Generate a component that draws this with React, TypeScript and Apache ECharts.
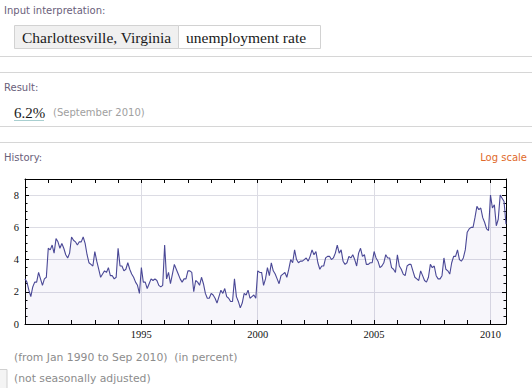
import React, { useEffect, useRef } from "react";
import * as echarts from "echarts";

// Monthly unemployment rate (%), Charlottesville, VA — Jan 1990 .. Sep 2010
const startYear = 1990;
const v1990 = [2.8, 2.6, 2.1, 1.7, 2.3, 2.6, 2.6, 3.2, 2.8, 2.4, 2.8, 2.9];
const v1991 = [4.7, 4.6, 4.9, 4.4, 5.3, 5.1, 4.7, 5.0, 4.7, 4.3, 4.1, 4.4];
const v1992 = [5.4, 5.2, 5.1, 4.9, 5.1, 5.1, 5.4, 5.0, 4.3, 3.8, 3.7, 3.6];
const v1993 = [4.5, 3.9, 3.4, 2.9, 3.1, 3.3, 3.2, 3.5, 3.0, 3.0, 2.8, 2.9];
const v1994 = [4.7, 3.6, 3.6, 3.3, 3.4, 3.8, 3.4, 3.1, 2.9, 2.6, 2.4, 1.9];
const v1995 = [3.5, 2.6, 2.6, 2.2, 2.5, 2.8, 2.7, 2.8, 2.7, 2.4, 2.3, 2.4];
const v1996 = [4.9, 2.8, 3.2, 2.5, 3.1, 3.7, 3.4, 3.1, 2.8, 2.6, 2.8, 2.8];
const v1997 = [3.3, 3.3, 3.2, 2.0, 2.7, 2.6, 2.4, 2.9, 2.5, 1.9, 1.6, 1.6];
const v1998 = [1.9, 1.8, 1.6, 1.3, 1.7, 2.1, 1.9, 2.2, 1.7, 1.6, 1.4, 1.4];
const v1999 = [2.8, 1.7, 1.4, 1.0, 1.3, 1.9, 1.8, 2.1, 1.6, 1.7, 1.8, 1.6];
const v2000 = [3.3, 3.2, 3.2, 2.4, 2.8, 3.5, 3.0, 3.8, 3.3, 3.1, 2.8, 2.5];
const v2001 = [3.0, 3.1, 3.2, 2.9, 3.4, 4.0, 3.8, 4.6, 4.0, 3.8, 3.9, 3.9];
const v2002 = [4.0, 4.1, 3.9, 4.2, 4.6, 4.3, 4.5, 3.8, 3.4, 3.6, 3.6, 4.1];
const v2003 = [4.2, 4.2, 4.0, 4.1, 4.4, 4.9, 4.4, 4.6, 3.9, 3.7, 3.8, 4.2];
const v2004 = [4.1, 4.3, 4.0, 3.6, 4.4, 4.7, 4.2, 4.3, 3.7, 3.7, 3.8, 3.8];
const v2005 = [4.5, 4.1, 3.9, 3.5, 3.6, 3.8, 4.3, 4.1, 4.1, 3.5, 3.4, 3.2];
const v2006 = [4.3, 3.6, 3.4, 3.1, 3.0, 3.6, 3.7, 3.7, 3.3, 2.9, 2.8, 2.7];
const v2007 = [3.3, 3.0, 2.7, 2.6, 2.9, 3.7, 3.5, 3.6, 3.0, 2.8, 2.8, 3.0];
const v2008 = [4.1, 3.4, 3.3, 3.1, 3.8, 4.2, 4.2, 4.6, 4.0, 3.9, 4.1, 4.6];
const v2009 = [5.7, 5.9, 6.0, 6.0, 6.6, 7.3, 7.1, 7.2, 6.6, 6.3, 5.9, 5.8];
const v2010 = [8.0, 7.2, 7.4, 6.1, 6.5, 8.0, 7.8, 7.6, 6.2];

const yearlyValues = [
  v1990, v1991, v1992, v1993, v1994, v1995, v1996, v1997, v1998, v1999,
  v2000, v2001, v2002, v2003, v2004, v2005, v2006, v2007, v2008, v2009, v2010,
];

const xMin = 1990;
const xMax = 2010 + 8 / 12;
const xLabelYears = [1995, 2000, 2005, 2010];
const yMin = 0;
const yMax = 9;
const yLabelValues = [0, 2, 4, 6, 8];

const sans = "'DejaVu Sans', Verdana, sans-serif";
const serif = "'Liberation Serif', 'Times New Roman', serif";

export default function App() {
  const ref = useRef<HTMLDivElement>(null);

  useEffect(() => {
    document.body.style.margin = "0";
    const el = ref.current!;
    const chart = echarts.init(el, null, { renderer: "svg" });

    const data: [number, number][] = [];
    yearlyValues.forEach((arr, i) => {
      arr.forEach((v, m) => data.push([startYear + i + m / 12, v]));
    });

    const frame = { show: true, onZero: false, lineStyle: { color: "#000", width: 1 } };
    const baseX = { type: "value" as const, min: xMin, max: xMax, interval: 1 };
    const baseY = { type: "value" as const, min: yMin, max: yMax };

    chart.setOption({
      animation: false,
      backgroundColor: "#fff",
      grid: { left: 25, top: 179, right: 26, bottom: 64, containLabel: false },
      xAxis: [
        {
          ...baseX,
          position: "bottom",
          axisLine: frame,
          axisTick: { show: true, inside: true, length: 4, lineStyle: { color: "#000" } },
          axisLabel: {
            show: true,
            margin: 5,
            color: "#111",
            fontFamily: serif,
            fontSize: 10.5,
            showMaxLabel: false,
            formatter: (v: number) => (xLabelYears.includes(Math.round(v * 1000) / 1000) ? String(v) : ""),
          },
          splitLine: { show: false },
        },
        {
          ...baseX,
          position: "top",
          axisLine: frame,
          axisTick: { show: true, inside: true, length: 4, lineStyle: { color: "#000" } },
          axisLabel: { show: false },
          splitLine: { show: false },
        },
        {
          type: "value",
          min: xMin,
          max: xMax,
          interval: 5,
          position: "bottom",
          axisLine: { show: false, onZero: false },
          axisTick: { show: false },
          axisLabel: { show: false },
          splitLine: { show: true, lineStyle: { color: "#dcdce4", width: 1 } },
        },
      ],
      yAxis: [
        {
          ...baseY,
          interval: 2,
          position: "left",
          axisLine: frame,
          axisTick: { show: true, inside: true, length: 4, lineStyle: { color: "#000" } },
          axisLabel: {
            show: true,
            margin: 6,
            color: "#111",
            fontFamily: serif,
            fontSize: 10.5,
            formatter: (v: number) => (yLabelValues.includes(v) ? String(v) : ""),
          },
          splitLine: { show: true, lineStyle: { color: "#dcdce4", width: 1 } },
        },
        {
          ...baseY,
          interval: 0.5,
          position: "left",
          axisLine: { show: false, onZero: false },
          axisTick: { show: true, inside: true, length: 2.5, lineStyle: { color: "#000" } },
          axisLabel: { show: false },
          splitLine: { show: false },
        },
        {
          ...baseY,
          interval: 2,
          position: "right",
          axisLine: frame,
          axisTick: { show: true, inside: true, length: 4, lineStyle: { color: "#000" } },
          axisLabel: { show: false },
          splitLine: { show: false },
        },
        {
          ...baseY,
          interval: 0.5,
          position: "right",
          axisLine: { show: false, onZero: false },
          axisTick: { show: true, inside: true, length: 2.5, lineStyle: { color: "#000" } },
          axisLabel: { show: false },
          splitLine: { show: false },
        },
      ],
      series: [
        {
          type: "line",
          xAxisIndex: 0,
          yAxisIndex: 0,
          data,
          showSymbol: false,
          symbol: "none",
          lineStyle: { color: "#4a4896", width: 1.1 },
          areaStyle: { color: "rgba(90,80,170,0.075)" },
          z: 3,
        },
      ],
      graphic: [
        { type: "text", x: 4, y: 10, style: { text: "Input interpretation:", font: `10px ${sans}`, fill: "#6a607a", verticalAlign: "middle" } },
        { type: "rect", shape: { x: 14.5, y: 25.5, width: 164, height: 23 }, style: { fill: "#f0f0f0", stroke: "#d2d2d2", lineWidth: 1 } },
        { type: "rect", shape: { x: 178.5, y: 25.5, width: 142, height: 23 }, style: { fill: "#ffffff", stroke: "#d2d2d2", lineWidth: 1 } },
        { type: "text", x: 22, y: 37.5, style: { text: "Charlottesville, Virginia", font: `15.5px ${serif}`, fill: "#1a1a1a", verticalAlign: "middle" } },
        { type: "text", x: 186, y: 37.5, style: { text: "unemployment rate", font: `15.5px ${serif}`, fill: "#1a1a1a", verticalAlign: "middle" } },
        { type: "line", shape: { x1: 0, y1: 56.5, x2: 532, y2: 56.5 }, style: { stroke: "#d6d6d6", lineWidth: 1 } },
        { type: "line", shape: { x1: 0, y1: 72.5, x2: 532, y2: 72.5 }, style: { stroke: "#d6d6d6", lineWidth: 1 } },
        { type: "text", x: 4, y: 87, style: { text: "Result:", font: `10px ${sans}`, fill: "#6a607a", verticalAlign: "middle" } },
        { type: "text", x: 14, y: 112.5, style: { text: "6.2%", font: `15px ${serif}`, fill: "#1a1a1a", verticalAlign: "middle" } },
        { type: "line", shape: { x1: 14, y1: 120.5, x2: 44, y2: 120.5 }, style: { stroke: "#a8cfd0", lineWidth: 1 } },
        { type: "text", x: 53, y: 112.5, style: { text: "(September 2010)", font: `10px ${sans}`, fill: "#a0a0a0", verticalAlign: "middle" } },
        { type: "line", shape: { x1: 0, y1: 126.5, x2: 532, y2: 126.5 }, style: { stroke: "#d6d6d6", lineWidth: 1 } },
        { type: "line", shape: { x1: 0, y1: 142.5, x2: 532, y2: 142.5 }, style: { stroke: "#d6d6d6", lineWidth: 1 } },
        { type: "text", x: 4, y: 157, style: { text: "History:", font: `10px ${sans}`, fill: "#6a607a", verticalAlign: "middle" } },
        { type: "text", x: 527, y: 157, style: { text: "Log scale", font: `10px ${sans}`, fill: "#e0692a", verticalAlign: "middle", align: "right" } },
        { type: "text", x: 14, y: 357, style: { text: "(from Jan 1990 to Sep 2010)  (in percent)", font: `10.8px ${sans}`, fill: "#8c8c8c", verticalAlign: "middle" } },
        { type: "text", x: 14, y: 378, style: { text: "(not seasonally adjusted)", font: `10.8px ${sans}`, fill: "#8c8c8c", verticalAlign: "middle" } },
        { type: "rect", shape: { x: -2, y: 369.5, width: 9, height: 22 }, style: { fill: "#f4f4f4", stroke: "#d0d0d0", lineWidth: 1 } },
      ],
    });

    return () => chart.dispose();
  }, []);

  return (
    <div
      ref={ref}
      style={{ position: "fixed", left: 0, top: 0, width: 532, height: 388, background: "#fff" }}
    />
  );
}
